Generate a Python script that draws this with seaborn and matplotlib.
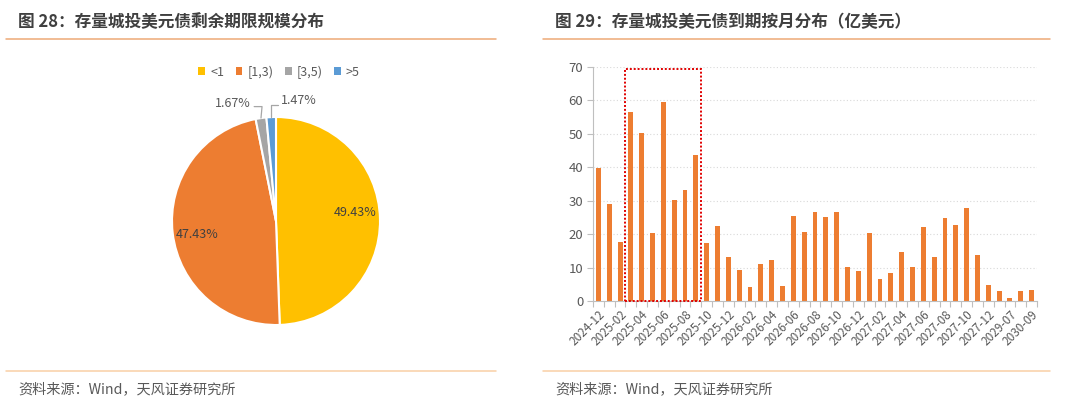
import matplotlib
matplotlib.use("Agg")
import matplotlib.pyplot as plt
import seaborn as sns
import pandas as pd
import numpy as np
from matplotlib.patches import Rectangle, Patch
from matplotlib.lines import Line2D

# ---------------- data ----------------
pie_labels = ["<1", "[1,3)", "[3,5)", ">5"]
pie_values = [49.43, 47.43, 1.67, 1.47]
pie_colors = ["#FFC000", "#ED7D31", "#A5A5A5", "#5B9BD5"]

months = ["2024-12",
          "2025-01", "2025-02", "2025-03", "2025-04", "2025-05", "2025-06",
          "2025-07", "2025-08", "2025-09", "2025-10", "2025-11", "2025-12",
          "2026-01", "2026-02", "2026-03", "2026-04", "2026-05", "2026-06",
          "2026-07", "2026-08", "2026-09", "2026-10", "2026-11", "2026-12",
          "2027-01", "2027-02", "2027-03", "2027-04", "2027-05", "2027-06",
          "2027-07", "2027-08", "2027-09", "2027-10", "2027-11", "2027-12",
          "2028-06", "2029-07", "2030-01", "2030-09"]
amounts = [39.9, 28.9, 17.7, 56.4, 50.2, 20.4, 59.6, 30.2, 33.1, 43.6,
           17.3, 22.3, 13.3, 9.2, 4.2, 11.1, 12.4, 4.5, 25.5, 20.5,
           26.7, 25.2, 26.7, 10.2, 9.0, 20.2, 6.7, 8.3, 14.7, 10.2,
           22.1, 13.3, 24.9, 22.7, 27.7, 13.9, 4.9, 3.0, 0.8, 3.0, 3.3]
highlight_start, highlight_end = "2025-03", "2025-09"
y_ticks = [0, 10, 20, 30, 40, 50, 60, 70]

title_left = "图 28：存量城投美元债剩余期限规模分布"
title_right = "图 29：存量城投美元债到期按月分布（亿美元）"
source_text = "资料来源：Wind，天风证券研究所"

# ---------------- style ----------------
sns.set_theme(style="white")
plt.rcParams['font.family'] = ['Noto Sans CJK SC', 'DejaVu Sans']
plt.rcParams['axes.unicode_minus'] = False

W, H = 1080, 413
fig = plt.figure(figsize=(W / 100, H / 100), dpi=100)

def fx(px):
    return px / W

def fy(py):
    return 1 - py / H

text_gray = "#595959"
title_gray = "#404040"

# titles, lines, source
fig.text(fx(18), fy(22), title_left, fontsize=12, fontweight="bold",
         color=title_gray, va="center", ha="left")
fig.text(fx(555), fy(22), title_right, fontsize=12, fontweight="bold",
         color=title_gray, va="center", ha="left")
for x0, x1 in [(6, 496), (543, 1050)]:
    fig.add_artist(Line2D([fx(x0), fx(x1)], [fy(39), fy(39)], color="#EDA977", lw=1.1))
    fig.add_artist(Line2D([fx(x0), fx(x1)], [fy(371), fy(371)], color="#F9CFA6", lw=1.1))
fig.text(fx(18), fy(389), source_text, fontsize=10.2, color=text_gray, va="center", ha="left")
fig.text(fx(555), fy(389), source_text, fontsize=10.2, color=text_gray, va="center", ha="left")

# ---------------- pie ----------------
cx, cy, R = 276, 221, 104
axp = fig.add_axes([fx(cx - R), fy(cy + R), 2 * R / W, 2 * R / H])
wedges, _ = axp.pie(pie_values, colors=pie_colors, startangle=90, counterclock=False,
                    wedgeprops=dict(edgecolor="white", linewidth=1.5))
axp.set_xlim(-1, 1)
axp.set_ylim(-1, 1)
axp.set_aspect("equal")
axp.axis("off")

cum = np.cumsum([0] + pie_values)
total = cum[-1]
def mid_xy(i, r):
    frac = (cum[i] + cum[i + 1]) / 2 / total
    ang = np.deg2rad(90 - 360 * frac)
    return r * np.cos(ang), r * np.sin(ang)

inner_dy = [0.07, -0.04]
for i in (0, 1):
    x, y = mid_xy(i, 0.76)
    axp.text(x, y + inner_dy[i], f"{pie_values[i]:.2f}%", fontsize=9, color=title_gray,
             ha="center", va="center")

lead = "#A6A6A6"
# [3,5) label (left)
x2, y2 = mid_xy(2, 1.0)
axp.plot([x2, x2 + 0.01, -0.21], [y2, 1.10, 1.10], color=lead, lw=0.9, clip_on=False)
axp.text(-0.24, 1.13, f"{pie_values[2]:.2f}%", fontsize=9, color=text_gray,
         ha="right", va="center")
# >5 label (right)
x3, y3 = mid_xy(3, 1.0)
axp.plot([x3, x3, 0.02], [y3, 1.12, 1.12], color=lead, lw=0.9, clip_on=False)
axp.text(0.05, 1.16, f"{pie_values[3]:.2f}%", fontsize=9, color=text_gray,
         ha="left", va="center")

handles = [Patch(facecolor=c, edgecolor="none") for c in pie_colors]
fig.legend(handles, pie_labels, loc="center", bbox_to_anchor=(fx(279), fy(72)),
           ncol=4, frameon=False, fontsize=9, handlelength=0.55, handleheight=0.55,
           handletextpad=0.4, columnspacing=0.9, labelcolor=text_gray)

# ---------------- bar chart ----------------
x_left, x_right, y_top, y_bot = 593, 1037, 67, 301
axb = fig.add_axes([fx(x_left), fy(y_bot), (x_right - x_left) / W, (y_bot - y_top) / H])
df = pd.DataFrame({"month": months, "amount": amounts})
sns.barplot(data=df, x="month", y="amount", color="#ED7D31", width=0.45,
            saturation=1, ax=axb, edgecolor="none")
n = len(months)
axb.set_xlim(-0.5, n - 0.5)
axb.set_ylim(0, 70)
axb.set_yticks(y_ticks)
axb.set_yticklabels([str(t) for t in y_ticks], fontsize=9.5, color=text_gray)
axb.set_xlabel("")
axb.set_ylabel("")
major = list(range(0, n, 2))
axb.set_xticks(major)
axb.set_xticklabels([months[i] for i in major], rotation=45, ha="right",
                    rotation_mode="anchor", fontsize=8.5, color=text_gray)
axb.set_xticks(np.arange(-0.5, n, 1), minor=True)
axb.tick_params(axis="x", which="major", length=0, pad=5)
axb.tick_params(axis="x", which="minor", length=4, width=0.8, color="#BFBFBF", bottom=True)
axb.tick_params(axis="y", which="major", length=4, width=0.8, color="#BFBFBF", left=True, pad=3)
for s in ("top", "right"):
    axb.spines[s].set_visible(False)
for s in ("left", "bottom"):
    axb.spines[s].set_color("#BFBFBF")
    axb.spines[s].set_linewidth(0.8)
axb.yaxis.grid(True, linestyle=(0, (1, 2)), color="#D9D9D9", linewidth=0.8)
axb.set_axisbelow(True)

i0 = months.index(highlight_start)
i1 = months.index(highlight_end)
axb.add_patch(Rectangle((i0 - 0.5, 0), (i1 - i0) + 1, 69.3, fill=False,
                        edgecolor="#E00000", linestyle=(0, (1, 1)), linewidth=1.4,
                        clip_on=False, zorder=5))

fig.savefig("out.png", dpi=100)
